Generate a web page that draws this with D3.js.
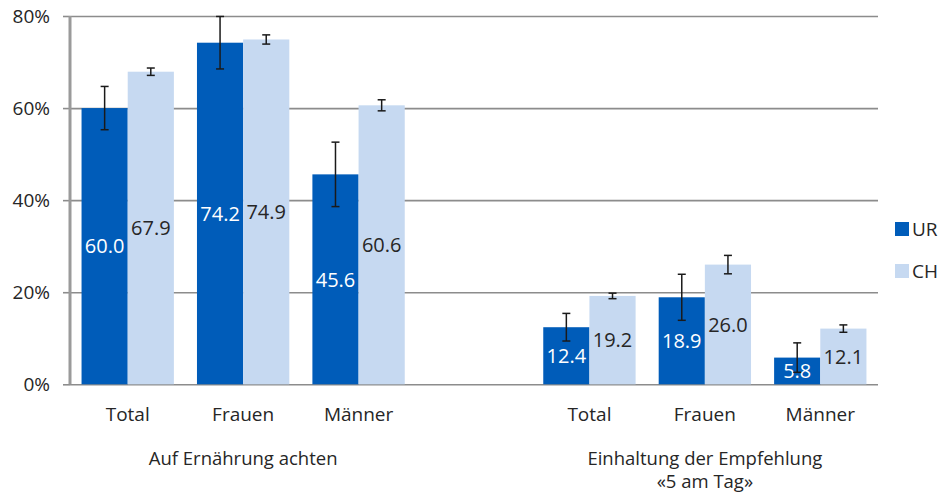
<!DOCTYPE html>
<html>
<head>
<meta charset="utf-8">
<script src="https://cdn.jsdelivr.net/npm/d3@7"></script>
<style>
  body { margin: 0; background: #fff; }
  text { font-family: "Open Sans", sans-serif; fill: #262626; }
</style>
</head>
<body>
<div id="container"></div>
<script>
// slots on the x axis, "gap" is the empty slot between the two groups
const slots = ["a-total", "a-frauen", "a-maenner", "gap", "b-total", "b-frauen", "b-maenner"];
const categoryLabels = ["Total", "Frauen", "Männer", "", "Total", "Frauen", "Männer"];
const seriesNames = ["UR", "CH"];
const urValues = [60.0, 74.2, 45.6, null, 12.4, 18.9, 5.8];
const chValues = [67.9, 74.9, 60.6, null, 19.2, 26.0, 12.1];
const urErrors = [4.7, 5.7, 7.0, null, 3.0, 5.0, 3.2];
const chErrors = [0.8, 1.0, 1.2, null, 0.6, 2.0, 0.8];
const yTicks = [0, 20, 40, 60, 80];
const groupTitles = [
  { center: "a-frauen", lines: ["Auf Ernährung achten"] },
  { center: "b-frauen", lines: ["Einhaltung der Empfehlung", "«5 am Tag»"] }
];

const colors = { UR: "#005cb9", CH: "#c6d9f1" };
const width = 942, height = 499;
const plotLeft = 70, plotRight = 878, plotTop = 16, plotBottom = 384.3;

const svg = d3.select('#container')
  .append('svg')
  .attr('width', width)
  .attr('height', height);

const x = d3.scaleBand().domain(slots).range([plotLeft, plotRight]).padding(0);
const xSub = d3.scaleBand().domain(seriesNames).range([0, x.bandwidth()]).paddingOuter(0.25).paddingInner(0);
const y = d3.scaleLinear().domain([0, 80]).range([plotBottom, plotTop]);

// gridlines
svg.append('g')
  .attr('transform', `translate(${plotLeft},0)`)
  .call(d3.axisLeft(y).tickValues(yTicks).tickSize(-(plotRight - plotLeft)).tickFormat(''))
  .call(g => g.select('.domain').remove())
  .call(g => g.selectAll('line').attr('stroke', '#8c8c8c').attr('stroke-width', 1.6));

// tick marks + labels
svg.append('g')
  .attr('transform', `translate(${plotLeft},0)`)
  .call(d3.axisLeft(y).tickValues(yTicks).tickSize(7).tickPadding(13).tickFormat(d => d + '%'))
  .call(g => g.select('.domain').remove())
  .call(g => g.selectAll('line').attr('stroke', '#8c8c8c').attr('stroke-width', 1.6))
  .call(g => g.selectAll('text').style('font-size', '19px').attr('fill', '#262626').attr('font-family', '"Open Sans", sans-serif'));

const rows = slots.map((s, i) => ({ slot: s, i, UR: urValues[i], CH: chValues[i], errUR: urErrors[i], errCH: chErrors[i] }))
  .filter(d => d.UR != null);

const bars = [];
rows.forEach(r => seriesNames.forEach(k => bars.push({ slot: r.slot, key: k, value: r[k], err: r['err' + k] })));

svg.append('g').selectAll('rect')
  .data(bars)
  .join('rect')
  .attr('x', d => x(d.slot) + xSub(d.key))
  .attr('width', xSub.bandwidth())
  .attr('y', d => y(d.value))
  .attr('height', d => y(0) - y(d.value))
  .attr('fill', d => colors[d.key]);

// y axis line
svg.append('line')
  .attr('x1', plotLeft).attr('x2', plotLeft)
  .attr('y1', y(80)).attr('y2', y(0))
  .attr('stroke', '#9a9a9a').attr('stroke-width', 3);

// value labels
svg.append('g').selectAll('text')
  .data(bars)
  .join('text')
  .attr('x', d => x(d.slot) + xSub(d.key) + xSub.bandwidth() / 2)
  .attr('y', d => (y(d.value) + y(0)) / 2)
  .attr('dy', '0.36em')
  .attr('text-anchor', 'middle')
  .style('font-size', '20px')
  .style('fill', d => d.key === 'UR' ? '#ffffff' : '#262626')
  .text(d => d.value.toFixed(1));

// error bars
const eg = svg.append('g').attr('stroke', '#1a1a1a').attr('stroke-width', 1.5);
bars.forEach(d => {
  const cx = x(d.slot) + xSub(d.key) + xSub.bandwidth() / 2;
  const y1 = y(d.value + d.err), y2 = y(d.value - d.err);
  eg.append('line').attr('x1', cx).attr('x2', cx).attr('y1', y1).attr('y2', y2);
  eg.append('line').attr('x1', cx - 4).attr('x2', cx + 4).attr('y1', y1).attr('y2', y1);
  eg.append('line').attr('x1', cx - 4).attr('x2', cx + 4).attr('y1', y2).attr('y2', y2);
});

// category labels
svg.append('g').selectAll('text')
  .data(slots)
  .join('text')
  .attr('x', d => x(d) + x.bandwidth() / 2)
  .attr('y', 421)
  .attr('text-anchor', 'middle')
  .style('font-size', '19px')
  .text((d, i) => categoryLabels[i]);

// group titles, one text per line
groupTitles.forEach(gt => {
  gt.lines.forEach((l, j) => {
    svg.append('text')
      .attr('x', x(gt.center) + x.bandwidth() / 2)
      .attr('y', 465 + j * 23)
      .attr('text-anchor', 'middle')
      .style('font-size', '18.5px')
      .text(l);
  });
});

// legend
const legend = svg.append('g').attr('transform', 'translate(895,222)');
seriesNames.forEach((k, i) => {
  const g = legend.append('g').attr('transform', `translate(0,${i * 42})`);
  g.append('rect').attr('width', 14).attr('height', 14).attr('fill', colors[k]);
  g.append('text').attr('x', 17).attr('y', 14).style('font-size', '19px').text(k);
});
</script>
</body>
</html>
